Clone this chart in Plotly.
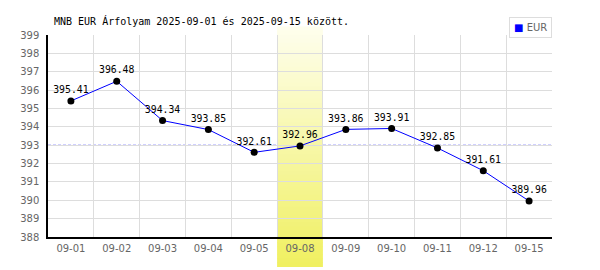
import plotly.graph_objects as go

# ---- data ----
dates = ["09-01", "09-02", "09-03", "09-04", "09-05", "09-08",
         "09-09", "09-10", "09-11", "09-12", "09-15"]
eur_rates = [395.41, 396.48, 394.34, 393.85, 392.61, 392.96,
             393.86, 393.91, 392.85, 391.61, 389.96]
reference_level = 393.0
highlight_date = "09-08"
y_ticks = list(range(388, 400))
title_text = "MNB EUR Árfolyam 2025-09-01 és 2025-09-15 között."
series_name = "EUR"

W, H = 600, 270
ML, MR, MT, MB = 48, 48, 35, 33
plot_h = H - MT - MB

mono = "DejaVu Sans Mono"
sans = "DejaVu Sans"

fig = go.Figure()
fig.add_trace(go.Scatter(
    x=dates, y=eur_rates, mode="lines+markers+text",
    line=dict(color="#0000ff", width=1),
    marker=dict(color="black", size=7),
    text=[f"{v:.2f}" for v in eur_rates],
    textposition="top center",
    textfont=dict(family=mono, size=9.8, color="black"),
    cliponaxis=False, showlegend=False, name=series_name,
))

shapes = []
# reference dashed line
shapes.append(dict(type="line", xref="paper", x0=0, x1=1, yref="y",
                   y0=reference_level, y1=reference_level,
                   line=dict(color="#7070ff", width=1, dash="3px,2px"),
                   layer="between"))

# gradient highlight band
hi = dates.index(highlight_date)
top_px, bot_px = 27, 267
n = 60
c_top = (254, 254, 238)
c_bot = (240, 240, 96)
def px2paper(p):
    return (H - MB - p) / plot_h
for i in range(n):
    p0 = top_px + (bot_px - top_px) * i / n
    p1 = top_px + (bot_px - top_px) * (i + 1) / n
    t = (i + 0.5) / n
    c = tuple(round(c_top[k] + (c_bot[k] - c_top[k]) * t) for k in range(3))
    shapes.append(dict(type="rect", xref="x", x0=hi - 0.5, x1=hi + 0.5,
                       yref="paper", y0=px2paper(p1), y1=px2paper(p0) + 0.002,
                       fillcolor=f"rgb{c}", line=dict(width=0),
                       layer="between"))

fig.update_layout(
    width=W, height=H,
    margin=dict(l=ML, r=MR, t=MT, b=MB, pad=0),
    paper_bgcolor="white", plot_bgcolor="white",
    shapes=shapes,
    title=dict(text=title_text, font=dict(family=mono, size=10, color="black"),
               xref="container", x=54 / W, xanchor="left",
               yref="container", y=1 - 21 / H, yanchor="middle"),
    xaxis=dict(type="category", tickson="boundaries", showgrid=True,
               gridcolor="#dddddd", gridwidth=1,
               showline=True, linecolor="black", linewidth=1.5,
               ticks="", range=[-0.5, len(dates) - 0.5],
               tickfont=dict(family=sans, size=10, color="#666666"),
               ticklabelstandoff=1, fixedrange=True, zeroline=False),
    yaxis=dict(range=[y_ticks[0], y_ticks[-1]], tickvals=y_ticks,
               showgrid=True, gridcolor="#dddddd", gridwidth=1,
               showline=True, linecolor="black", linewidth=1.5,
               ticks="", zeroline=False,
               tickfont=dict(family=sans, size=10, color="#666666"),
               ticklabelstandoff=5),
    annotations=[dict(
        text=f"<span style='color:#0000ff'>■</span> <span style='color:#666666'>{series_name}</span>",
        xref="paper", yref="paper", x=1.0, y=px2paper(17),
        xanchor="right", yanchor="top", showarrow=False,
        font=dict(family=sans, size=10),
        bordercolor="#dddddd", borderwidth=1, borderpad=4, bgcolor="white")],
)

fig.write_html("out.html")
